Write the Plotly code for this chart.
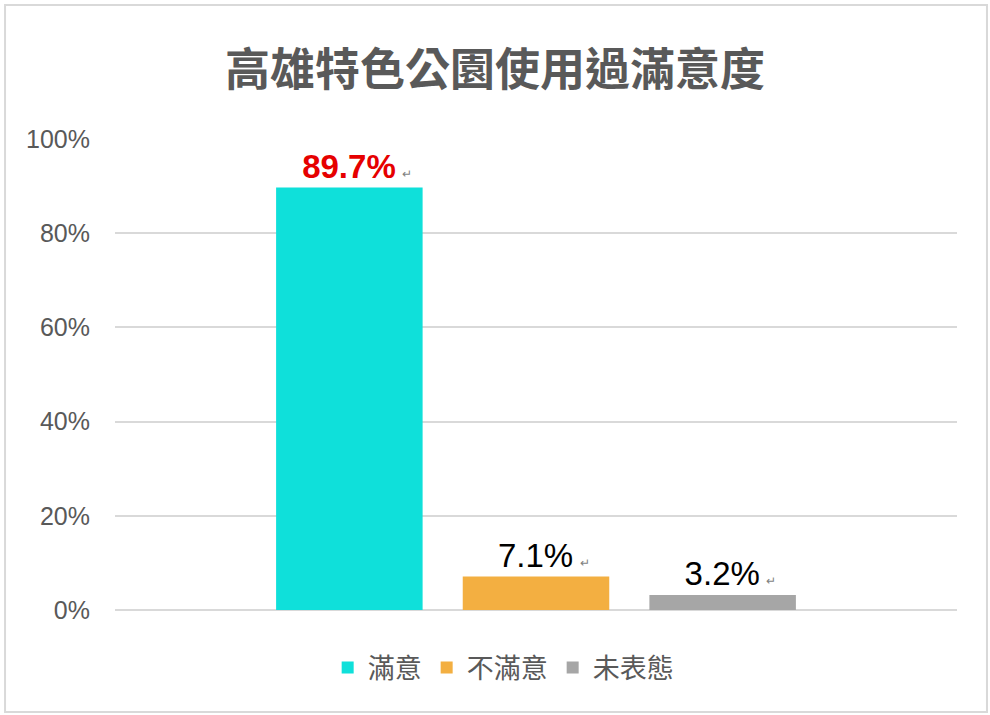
"""
高雄特色公園使用過滿意度 — 單一類別、三個系列的長條圖
"""
import plotly.graph_objects as go

# ── 資料 ──────────────────────────────────────────────────
title_text = "高雄特色公園使用過滿意度"
group_label = ["使用過滿意度"]
series_names = ["滿意", "不滿意", "未表態"]
series_values = [0.897, 0.071, 0.032]
series_colors = ["#0FE0DA", "#F3AF41", "#A6A6A6"]
label_colors = ["#E60000", "#000000", "#000000"]
label_weights = ["bold", "normal", "normal"]
y_ticks = [0, 0.2, 0.4, 0.6, 0.8, 1.0]

# ── 圖 ────────────────────────────────────────────────────
fig = go.Figure()
for name, val, col, lcol, w in zip(series_names, series_values,
                                   series_colors, label_colors, label_weights):
    # 前面補一點空白，讓數字本身對齊長條中心
    fig.add_trace(go.Bar(
        x=group_label, y=[val], name=name,
        marker=dict(color=col, line=dict(width=0)),
        text=[f"\u00a0\u2009{val*100:.1f}%\u2009<span style='font-size:12px;color:#7F7F7F;font-weight:normal'>↵</span>"],
        textposition="outside",
        textfont=dict(family="Liberation Sans, Arial", size=33, color=lcol, weight=w),
        constraintext="none",
        cliponaxis=False,
        hoverinfo="skip",
    ))

fig.update_layout(
    width=990, height=715,
    margin=dict(l=115, r=33, t=139, b=105),
    paper_bgcolor="white", plot_bgcolor="white",
    barmode="group",
    bargap=0.335,
    bargroupgap=0.215,
    title=dict(
        text=f"<b>{title_text}</b>",
        x=0.5, xanchor="center", xref="container",
        y=0.902, yanchor="middle", yref="container",
        font=dict(family="Noto Sans CJK TC", size=45, color="#595959"),
    ),
    legend=dict(
        orientation="h", x=0.461, xanchor="center",
        y=-0.123, yanchor="middle",
        font=dict(family="Noto Sans CJK TC", size=27, color="#595959"),
        itemclick=False,
    ),
    showlegend=True,
)

fig.update_xaxes(showticklabels=False, showline=False, showgrid=False,
                 zeroline=False, ticks="")
fig.update_yaxes(
    range=[0, 1], tickvals=y_ticks, tickformat=".0%",
    showgrid=True, gridcolor="#D9D9D9", gridwidth=2,
    zeroline=True, zerolinecolor="#D9D9D9", zerolinewidth=2,
    showline=False, ticks="", ticklabelstandoff=24,
    tickfont=dict(family="Liberation Sans, Arial", size=25, color="#595959"),
)

# 外框
fig.add_shape(type="rect", xref="paper", yref="paper",
              x0=-0.1306, x1=1.0356, y0=-0.2166, y1=1.2845,
              line=dict(color="#D9D9D9", width=2), layer="below")

# 頁面預設 8px 邊距拿掉
fig.write_html("out.html", config={"displayModeBar": False},
               post_script="document.body.style.margin='0px';")
